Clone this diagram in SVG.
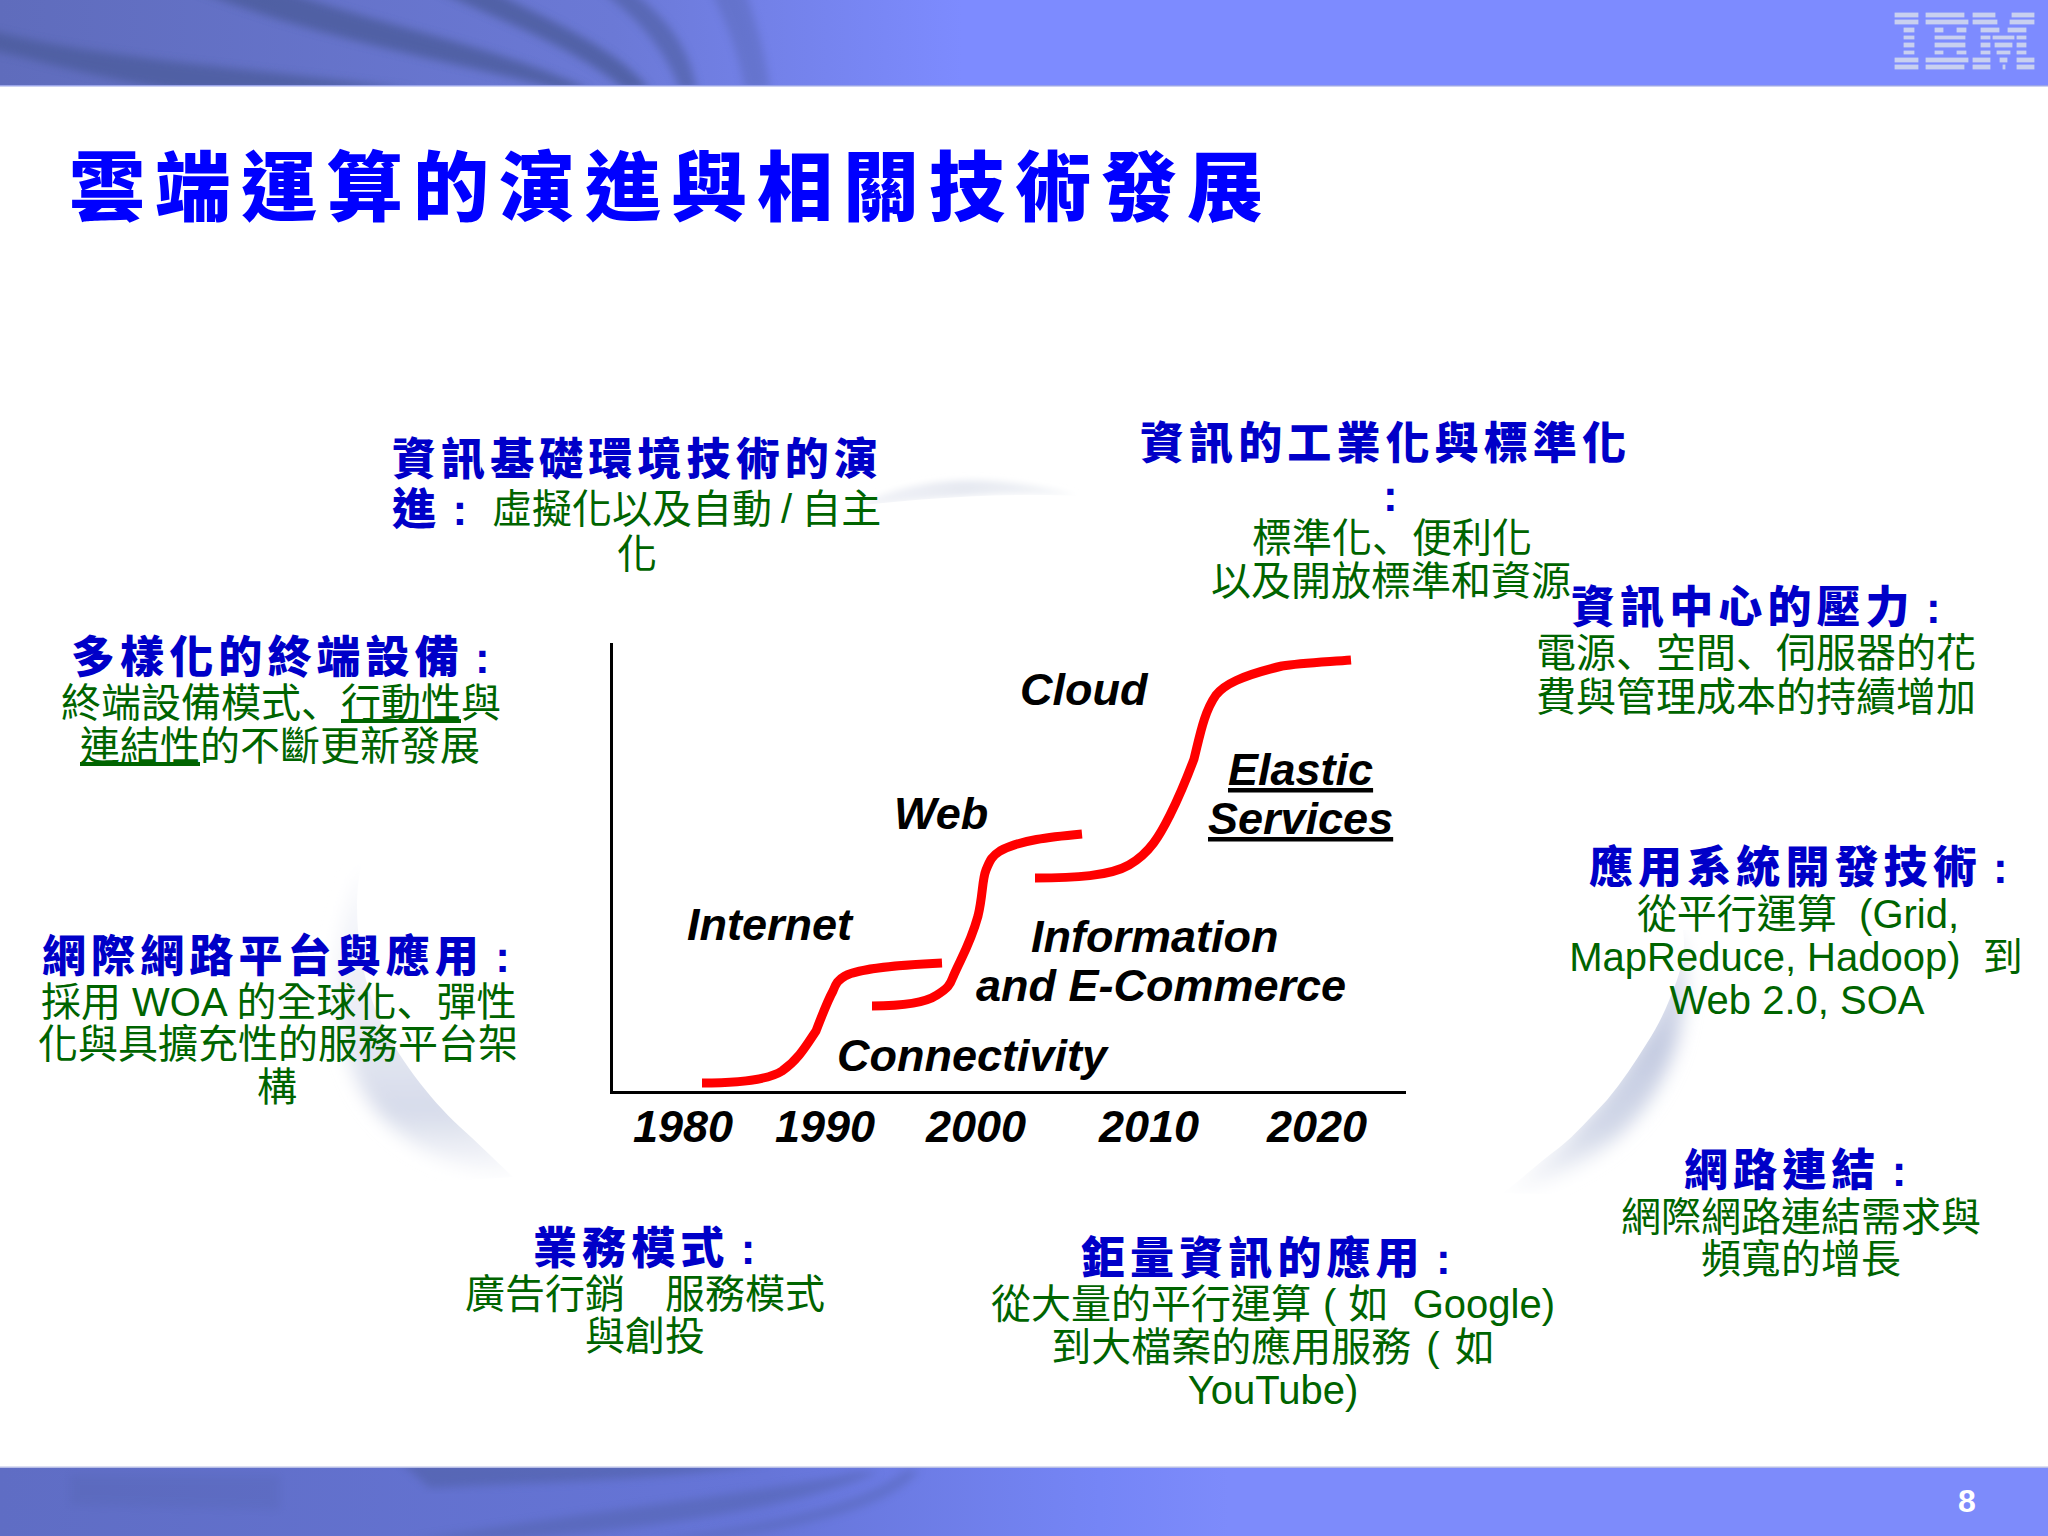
<svg xmlns="http://www.w3.org/2000/svg" width="2048" height="1536" viewBox="0 0 2048 1536">
<style>
text{font-family:"Liberation Sans","Noto Sans CJK TC",sans-serif}
.t{font-size:76px;font-weight:900;fill:#0000ff;letter-spacing:10px}
.h{font-size:44px;font-weight:900;fill:#0000c8;letter-spacing:5.1px;word-spacing:-6px}
.b{font-size:40px;fill:#006400}
.p{font-family:"Noto Sans CJK JP",sans-serif}
.c{font-size:45px;font-weight:700;font-style:italic;fill:#000}
.curve{fill:none;stroke:#ff0000;stroke-width:9}
.axis{fill:none;stroke:#000;stroke-width:3}
.band{fill:#4a5a98;filter:url(#blur)}
.bar{fill:#c9d0f0;stroke:#c9d0f0;stroke-width:.8}
.u{text-decoration:underline}
</style>
<defs>
<linearGradient id="hdr" x1="0" y1="0" x2="1" y2="0"><stop offset="0" stop-color="#5f6cbc"/><stop offset="0.3" stop-color="#6b79d6"/><stop offset="0.47" stop-color="#7d8bff"/><stop offset="1" stop-color="#7d8bff"/></linearGradient>
<linearGradient id="ftr" x1="0" y1="0" x2="1" y2="0"><stop offset="0" stop-color="#5f6dc4"/><stop offset="0.375" stop-color="#6675d8"/><stop offset="0.537" stop-color="#7585f6"/><stop offset="0.6" stop-color="#7d8bfb"/><stop offset="1" stop-color="#7d8bfb"/></linearGradient>
<linearGradient id="cl" x1="0" y1="0" x2="0" y2="1"><stop offset="0" stop-color="#f8f9fc"/><stop offset="0.45" stop-color="#eceef6"/><stop offset="0.78" stop-color="#d6dbea"/><stop offset="1" stop-color="#ffffff"/></linearGradient>
<linearGradient id="cr" x1="0" y1="0" x2="0" y2="1"><stop offset="0" stop-color="#e6e9f3"/><stop offset="0.45" stop-color="#c4cbe1"/><stop offset="0.75" stop-color="#d2d8e8"/><stop offset="1" stop-color="#ffffff"/></linearGradient>
<linearGradient id="ct" x1="0" y1="0" x2="1" y2="0"><stop offset="0" stop-color="#f4f5f9"/><stop offset="0.5" stop-color="#e6e9f1"/><stop offset="1" stop-color="#f4f6f8"/></linearGradient>
<filter id="blur" x="-20%" y="-20%" width="140%" height="140%"><feGaussianBlur stdDeviation="4"/></filter>
<filter id="soft" x="-30%" y="-30%" width="160%" height="160%"><feGaussianBlur stdDeviation="9"/></filter>
<filter id="soft2" x="-20%" y="-50%" width="140%" height="200%"><feGaussianBlur stdDeviation="3"/></filter>
<clipPath id="cliph"><rect width="2048" height="86"/></clipPath>
<clipPath id="clipf"><rect y="1468" width="2048" height="68"/></clipPath>
<clipPath id="clipl"><path d="M362 863C352 900 358 960 372 1000C385 1040 425 1095 460 1127C480 1145 495 1160 513 1177L300 1190L300 863Z"/></clipPath>
<clipPath id="clipr"><path d="M1683 930C1686 950 1682 965 1677 980C1668 1005 1660 1023 1647 1043C1635 1062 1622 1082 1607 1100C1590 1118 1575 1135 1560 1147C1540 1162 1520 1180 1503 1193L1760 1200L1760 930Z"/></clipPath>
<clipPath id="clipt"><path d="M840 508C900 500 1000 492 1080 496L1080 440L840 440Z"/></clipPath>
</defs>
<rect width="2048" height="1536" fill="#fff"/>
<g id="background">
<g clip-path="url(#clipl)"><path d="M365 865C325 935 330 1040 365 1095C400 1150 460 1170 515 1180L520 1170C450 1100 370 1010 365 865Z" fill="url(#cl)" filter="url(#soft)"/></g>
<g clip-path="url(#clipr)"><path d="M1675 925C1700 990 1680 1080 1620 1135C1580 1170 1530 1190 1495 1198C1570 1150 1640 1060 1665 990Z" fill="url(#cr)" filter="url(#soft)"/></g>
<g clip-path="url(#clipt)"><path d="M850 510C900 480 980 468 1078 496C1000 490 920 498 850 510Z" fill="url(#ct)" filter="url(#soft2)"/></g>
</g>
<g id="header">
<rect width="2048" height="86" fill="url(#hdr)"/>
<g clip-path="url(#cliph)">
<path class="band" opacity="0.75" d="M195 -10L280 -10C380 25 510 50 590 90L560 90C450 60 320 40 195 -10Z"/>
<path class="band" opacity="0.75" d="M435 -10L490 -10C550 20 620 50 650 90L625 90C580 50 500 20 435 -10Z"/>
<path class="band" opacity="0.55" d="M600 -10L630 -10C670 20 690 50 697 90L680 90C665 50 640 20 600 -10Z"/>
<path class="band" opacity="0.3" d="M710 -10L745 -10C755 20 765 50 770 90L745 90C738 50 725 20 710 -10Z"/>
<path class="band" opacity="0.7" d="M-10 30C100 60 280 70 415 90L180 90C100 80 40 60 -10 50Z"/>
</g>
<rect y="85" width="2048" height="1.500" fill="#9aa4e8"/>
</g>
<g id="ibm-logo">
<rect class="bar" x="1895" y="13" width="23" height="4"/><rect class="bar" x="1895" y="20" width="23" height="4"/><rect class="bar" x="1904" y="28" width="10" height="4"/><rect class="bar" x="1904" y="36" width="10" height="3"/><rect class="bar" x="1904" y="43" width="10" height="4"/><rect class="bar" x="1904" y="51" width="10" height="3"/><rect class="bar" x="1895" y="58" width="23" height="4"/><rect class="bar" x="1895" y="65" width="23" height="4"/>
<rect class="bar" x="1926" y="13" width="38" height="4"/><rect class="bar" x="1926" y="20" width="42" height="4"/><rect class="bar" x="1935" y="28" width="8" height="4"/><rect class="bar" x="1957" y="28" width="9" height="4"/><rect class="bar" x="1935" y="36" width="30" height="3"/><rect class="bar" x="1935" y="43" width="30" height="4"/><rect class="bar" x="1935" y="51" width="8" height="3"/><rect class="bar" x="1957" y="51" width="9" height="3"/><rect class="bar" x="1926" y="58" width="42" height="4"/><rect class="bar" x="1926" y="65" width="38" height="4"/>
<rect class="bar" x="1973" y="13" width="22" height="4"/><rect class="bar" x="2012" y="13" width="22" height="4"/><rect class="bar" x="1973" y="20" width="24" height="4"/><rect class="bar" x="2010" y="20" width="24" height="4"/><rect class="bar" x="1981" y="28" width="18" height="4"/><rect class="bar" x="2008" y="28" width="18" height="4"/><rect class="bar" x="1981" y="36" width="9" height="3"/><rect class="bar" x="1993" y="36" width="21" height="3"/><rect class="bar" x="2017" y="36" width="9" height="3"/><rect class="bar" x="1981" y="43" width="9" height="4"/><rect class="bar" x="1995" y="43" width="17" height="4"/><rect class="bar" x="2017" y="43" width="9" height="4"/><rect class="bar" x="1981" y="51" width="9" height="3"/><rect class="bar" x="1997" y="51" width="13" height="3"/><rect class="bar" x="2017" y="51" width="9" height="3"/><rect class="bar" x="1973" y="58" width="17" height="4"/><rect class="bar" x="2000" y="58" width="7" height="4"/><rect class="bar" x="2017" y="58" width="17" height="4"/><rect class="bar" x="1973" y="65" width="17" height="4"/><rect class="bar" x="2003" y="65" width="2" height="4"/><rect class="bar" x="2017" y="65" width="17" height="4"/>
</g>
<g id="footer">
<rect y="1468" width="2048" height="68" fill="url(#ftr)"/>
<g clip-path="url(#clipf)">
<path class="band" opacity="0.45" d="M430 1488C540 1482 680 1480 772 1462L400 1462Z"/>
<path class="band" opacity="0.35" d="M410 1540C600 1510 780 1490 856 1472L880 1472C790 1510 640 1530 500 1540Z"/>
<path class="band" opacity="0.3" d="M650 1540C780 1525 870 1500 905 1470L920 1470C890 1510 790 1530 700 1540Z"/>
<path class="band" opacity="0.15" d="M70 1475L280 1475L280 1510L70 1505Z"/>
</g>
<rect y="1466.500" width="2048" height="1.500" fill="#b8bee6"/>
<text x="1967" y="1512" text-anchor="middle" style="font-size:32px;font-weight:700;fill:#fff">8</text>
</g>
<g id="title"><text class="t" x="69" y="215">雲端運算的演進與相關技術發展</text></g>
<g id="node-infra">
<text class="h" x="392" y="475">資訊基礎環境技術的演</text>
<text class="h" x="392" y="525">進 :</text>
<text class="b" x="492" y="523" word-spacing="-2">虛擬化以及自動 / 自主</text>
<text class="b" x="637" y="568" text-anchor="middle">化</text>
</g>
<g id="node-industrial">
<text class="h" x="1140" y="459">資訊的工業化與標準化</text>
<text class="h" x="1393" y="511" text-anchor="middle">:</text>
<text class="b" x="1392" y="552" text-anchor="middle">標準化<tspan class="p">、</tspan>便利化</text>
<text class="b" x="1391" y="595" text-anchor="middle">以及開放標準和資源</text>
</g>
<g id="node-datacenter">
<text class="h" x="1571" y="623">資訊中心的壓力 :</text>
<text class="b" x="1756" y="667" text-anchor="middle">電源<tspan class="p">、</tspan>空間<tspan class="p">、</tspan>伺服器的花</text>
<text class="b" x="1756" y="711" text-anchor="middle">費與管理成本的持續增加</text>
</g>
<g id="node-devices">
<text class="h" x="71" y="673">多樣化的終端設備 :</text>
<text class="b" x="61" y="717">終端設備模式<tspan class="p">、</tspan><tspan class="u">行動性</tspan>與</text>
<text class="b" x="80" y="760"><tspan class="u">連結性</tspan>的不斷更新發展</text>
</g>
<g id="node-platform">
<text class="h" x="42" y="972">網際網路平台與應用 :</text>
<text class="b" x="41" y="1016">採用 WOA 的全球化<tspan class="p">、</tspan>彈性</text>
<text class="b" x="38" y="1058">化與具擴充性的服務平台架</text>
<text class="b" x="277" y="1101" text-anchor="middle">構</text>
</g>
<g id="node-appdev">
<text class="h" x="1589" y="883">應用系統開發技術 :</text>
<text class="b" x="1798" y="928" text-anchor="middle">從平行運算&#160;&#160;(Grid,</text>
<text class="b" x="1796" y="971" text-anchor="middle">MapReduce, Hadoop)&#160;&#160;到</text>
<text class="b" x="1797" y="1014" text-anchor="middle">Web 2.0, SOA</text>
</g>
<g id="node-network">
<text class="h" x="1684" y="1186">網路連結 :</text>
<text class="b" x="1801" y="1231" text-anchor="middle">網際網路連結需求與</text>
<text class="b" x="1801" y="1273" text-anchor="middle">頻寬的增長</text>
</g>
<g id="node-massive">
<text class="h" x="1081" y="1274">鉅量資訊的應用 :</text>
<text class="b" x="1273" y="1318" text-anchor="middle" word-spacing="1">從大量的平行運算 ( 如&#160;&#160;Google)</text>
<text class="b" x="1273" y="1361" text-anchor="middle" word-spacing="4">到大檔案的應用服務 ( 如</text>
<text class="b" x="1273" y="1404" text-anchor="middle">YouTube)</text>
</g>
<g id="node-business">
<text class="h" x="533" y="1264">業務模式 :</text>
<text class="b" x="645" y="1308" text-anchor="middle">廣告行銷　服務模式</text>
<text class="b" x="645" y="1350" text-anchor="middle">與創投</text>
</g>
<g id="connectors">
<path class="axis" d="M611.500 643V1092.500H1406"/>
<path class="curve" d="M702 1083C740 1083 768 1080 782 1071C798 1060 806 1046 816 1031C824 1010 828 1000 833 991C836 983 838 980 845 976C860 968 900 965 942 963"/>
<path class="curve" d="M872 1006C900 1006 925 1003 937 995C948 988 950 985 953 977C960 960 970 945 978 916C983 895 982 880 986 870C990 860 992 856 1000 851C1020 840 1050 837 1082 834"/>
<path class="curve" d="M1035 878C1075 878 1110 876 1129 865C1150 853 1160 835 1170 815C1180 795 1188 775 1194 759C1200 735 1204 712 1216 695C1224 685 1240 676 1282 666C1300 663 1325 662 1351 660"/>
</g>
<g id="chart-labels">
<text class="c" x="1020" y="705">Cloud</text>
<text class="c" x="894" y="829">Web</text>
<text class="c" x="687" y="940">Internet</text>
<text class="c" x="1031" y="952">Information</text>
<text class="c" x="976" y="1001">and E-Commerce</text>
<text class="c" x="837" y="1071">Connectivity</text>
<text class="c u" x="1228" y="785">Elastic</text>
<text class="c u" x="1208" y="834">Services</text>
<text class="c" x="633" y="1142">1980</text>
<text class="c" x="775" y="1142">1990</text>
<text class="c" x="926" y="1142">2000</text>
<text class="c" x="1099" y="1142">2010</text>
<text class="c" x="1267" y="1142">2020</text>
</g>
</svg>
